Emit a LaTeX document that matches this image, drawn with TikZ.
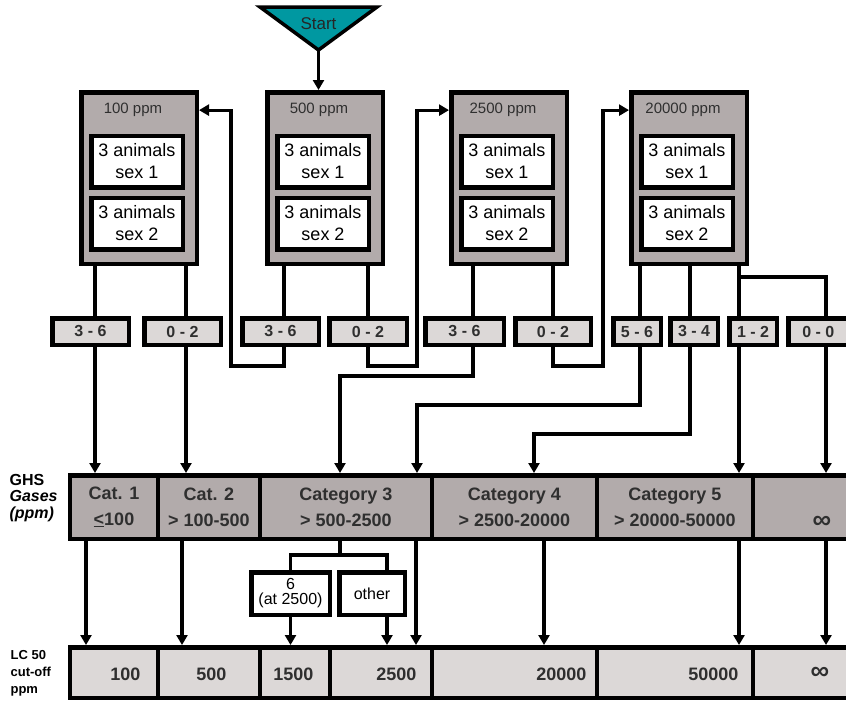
\documentclass[tikz,border=0pt]{standalone}
\usepackage{fontspec}
\setmainfont{Liberation Sans}
\usepackage{xcolor}
\usetikzlibrary{positioning,arrows.meta}
\definecolor{boxgray}{HTML}{B2ABAB}
\definecolor{light}{HTML}{DCD8D7}
\definecolor{startc}{HTML}{0098A1}
\definecolor{ink}{HTML}{2F2F2F}

\begin{document}
\begin{tikzpicture}[x=1pt,y=-1pt,line width=3.2pt,>={Triangle[width=11pt,length=10pt]},
  dose/.style={draw,line width=4.5pt,fill=boxgray,minimum width=115.5pt,minimum height=171.5pt,inner sep=0pt},
  ppm/.style={inner sep=0pt,text=ink,font=\fontsize{15}{17}\selectfont},
  grp/.style={draw,line width=4.5pt,fill=white,minimum width=91.5pt,minimum height=51.5pt,inner sep=0pt,align=center,font=\fontsize{18}{22}\selectfont},
  score/.style={draw,line width=4.5pt,fill=light,minimum height=26.5pt,inner sep=0pt,text=ink,font=\bfseries\fontsize{16}{18}\selectfont},
  cat/.style={draw,line width=4.5pt,fill=boxgray,minimum height=63.5pt,inner sep=0pt,align=center,text=ink,font=\bfseries\fontsize{18}{26}\selectfont},
  lc/.style={draw,line width=4.5pt,fill=light,minimum height=50.5pt,inner sep=0pt},
  num/.style={inner sep=0pt,text=ink,font=\bfseries\fontsize{18}{20}\selectfont},
  inf/.style={inner sep=0pt,text=ink,font=\bfseries\fontsize{26}{26}\selectfont},
  sub/.style={draw,line width=4.5pt,fill=white,minimum height=42.5pt,inner sep=0pt,align=center,font=\fontsize{16}{15}\selectfont},
  side/.style={inner sep=0pt,anchor=west,align=left,font=\bfseries\fontsize{16}{16.5}\selectfont}]
\fill[white](0,0)rectangle(846,704);
\useasboundingbox(0,0)rectangle(846,704);
% start
\filldraw[fill=startc,line width=3.5pt](260,7)--(377,7)--(318.5,50)--cycle;
\node[inner sep=0pt,font=\fontsize{17}{19}\selectfont,text=black!85](start) at (318.5,24){Start};
\coordinate (apex) at (318.5,50);
% dose groups
\node[dose](d1) at (139,178){};
\node[dose,right=66pt of d1](d2){};
\node[dose,right=64pt of d2](d3){};
\node[dose,right=60pt of d3](d4){};
\node[grp](a1) at ([xshift=-2pt,yshift=16.5pt]d1.center){3 animals\\sex 1};
\node[grp,below=6pt of a1](b1){3 animals\\sex 2};
\node[grp](a2) at ([xshift=-2pt,yshift=16.5pt]d2.center){3 animals\\sex 1};
\node[grp,below=6pt of a2](b2){3 animals\\sex 2};
\node[grp](a3) at ([xshift=-2pt,yshift=16.5pt]d3.center){3 animals\\sex 1};
\node[grp,below=6pt of a3](b3){3 animals\\sex 2};
\node[grp](a4) at ([xshift=-2pt,yshift=16.5pt]d4.center){3 animals\\sex 1};
\node[grp,below=6pt of a4](b4){3 animals\\sex 2};
\node[ppm,above=15pt of a1,xshift=-4pt](t1){100 ppm};
\node[ppm,above=15pt of a2,xshift=-4pt](t2){500 ppm};
\node[ppm,above=15pt of a3,xshift=-4pt](t3){2500 ppm};
\node[ppm,above=15pt of a4,xshift=-4pt](t4){20000 ppm};
% mortality counts
\node[score,minimum width=76.5pt](s1) at (90.5,331.5){3 - 6};
\node[score,minimum width=76.5pt,right=11pt of s1](s2){0 - 2};
\node[score,minimum width=76.5pt,right=17pt of s2](s3){3 - 6};
\node[score,minimum width=77.5pt,right=6pt of s3](s4){0 - 2};
\node[score,minimum width=78.5pt,right=14pt of s4](s5){3 - 6};
\node[score,minimum width=75.5pt,right=7pt of s5](s6){0 - 2};
\node[score,minimum width=47.5pt,right=18pt of s6](s7){5 - 6};
\node[score,minimum width=47.5pt,right=5pt of s7](s8){3 - 4};
\node[score,minimum width=47.5pt,right=7pt of s8](s9){1 - 2};
\node[score,minimum width=60pt,right=7pt of s9](s10){0 - 0};
% GHS row
\node[side](gl) at (8,498){GHS\\\textit{Gases}\\\textit{(ppm)}};
\node[cat,minimum width=87.75pt](g1) at (114,507){Cat. 1\\\underline{<}100};
\node[cat,minimum width=102pt,right=-4.5pt of g1](g2){Cat. 2\\> 100-500};
\node[cat,minimum width=172pt,right=-4.5pt of g2](g3){Category 3\\> 500-2500};
\node[cat,minimum width=165pt,right=-4.5pt of g3](g4){Category 4\\> 2500-20000};
\node[cat,minimum width=156pt,right=-4.5pt of g4](g5){Category 5\\> 20000-50000};
\node[cat,minimum width=97pt,right=-4.5pt of g5](g6){};
\node[inf](inf1) at (822,522){∞};
% Cat. 3 split
\node[sub,minimum width=78.5pt](o1) at (290.5,593.5){6\\(at 2500)};
\node[sub,minimum width=65.5pt](o2) at (372,593.5){other};
% LC50 row
\node[side,font=\bfseries\fontsize{13}{17}\selectfont](ll) at (9,673){LC 50\\cut-off\\ppm};
\node[lc,minimum width=87.75pt](l1) at (114,672.5){};
\node[lc,minimum width=102pt,right=-4.5pt of l1](l2){};
\node[lc,minimum width=70pt,right=-4.5pt of l2](l3){};
\node[lc,minimum width=102pt,right=-4.5pt of l3](l4){};
\node[lc,minimum width=165pt,right=-4.5pt of l4](l5){};
\node[lc,minimum width=156pt,right=-4.5pt of l5](l6){};
\node[lc,minimum width=97pt,right=-4.5pt of l6](l7){};
\node[num,anchor=east](n1) at (142,674){100};
\node[num,anchor=east](n2) at (228,674){500};
\node[num,anchor=east](n3) at (315,674){1500};
\node[num,anchor=east](n4) at (418,674){2500};
\node[num,anchor=east](n5) at (588,674){20000};
\node[num,anchor=east](n6) at (740,674){50000};
\node[inf](n7) at (820,673){∞};
% columns and bends
\coordinate (c1) at (95,0);\coordinate (c2) at (186,0);\coordinate (c3) at (284,0);\coordinate (c4) at (368,0);
\coordinate (c5) at (473,0);\coordinate (c6) at (553,0);\coordinate (c7) at (640,0);\coordinate (c8) at (690,0);
\coordinate (c9) at (739,0);
\coordinate (r1) at (231,366);\coordinate (r2) at (417,366);\coordinate (r3) at (603,366);
\coordinate (h5) at (340,376);\coordinate (h7) at (417,405);\coordinate (h8) at (534,434);\coordinate (h9) at (826,277);
\coordinate (e1) at (86,0);\coordinate (e2) at (182,0);\coordinate (e3) at (416,0);\coordinate (e4) at (544,0);
\coordinate (e5) at (387,0);\coordinate (br) at (340,555);
% connectors
\draw[->](apex)--(d2.north -| apex);
\draw(d1.south -| c1)--(s1.north -| c1);\draw[->](s1.south -| c1)--(g1.north -| c1);
\draw(d1.south -| c2)--(s2.north -| c2);\draw[->](s2.south -| c2)--(g2.north -| c2);
\draw(d2.south -| c3)--(s3.north -| c3);\draw[->](s3.south -| c3)|-(r1)|-(d1.east |- t1);
\draw(d2.south -| c4)--(s4.north -| c4);\draw[->](s4.south -| c4)|-(r2)|-(d3.west |- t3);
\draw(d3.south -| c5)--(s5.north -| c5);\draw[->](s5.south -| c5)|-(h5)--(g3.north -| h5);
\draw(d3.south -| c6)--(s6.north -| c6);\draw[->](s6.south -| c6)|-(r3)|-(d4.west |- t4);
\draw(d4.south -| c7)--(s7.north -| c7);\draw[->](s7.south -| c7)|-(h7)--(g3.north -| h7);
\draw(d4.south -| c8)--(s8.north -| c8);\draw[->](s8.south -| c8)|-(h8)--(g4.north -| h8);
\draw(d4.south -| c9)--(s9.north -| c9);\draw[->](s9.south -| c9)--(g5.north -| c9);
\draw(h9 -| c9)--(h9)--(s10.north -| h9);\draw[->](s10.south -| h9)--(g6.north -| h9);
\draw[->](g1.south -| e1)--(l1.north -| e1);
\draw[->](g2.south -| e2)--(l2.north -| e2);
\draw(g3.south -| br)--(br);\draw(o1.north)|-(br)-|(o2.north -| e5);
\draw[->](o1.south)--(l3.north -| o1);
\draw[->](o2.south -| e5)--(l4.north -| e5);
\draw[->](g3.south -| e3)--(l4.north -| e3);
\draw[->](g4.south -| e4)--(l5.north -| e4);
\draw[->](g5.south -| c9)--(l6.north -| c9);
\draw[->](g6.south -| h9)--(l7.north -| h9);
\end{tikzpicture}
\end{document}
